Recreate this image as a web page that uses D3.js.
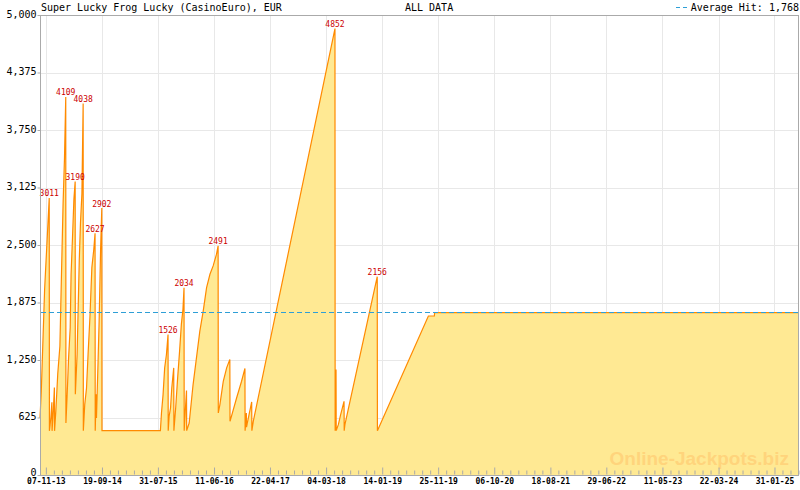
<!DOCTYPE html>
<html>
<head>
<meta charset="utf-8">
<script src="https://cdn.jsdelivr.net/npm/d3@7/dist/d3.min.js"></script>
<style>
  html, body { margin: 0; padding: 0; background: #fff; }
  svg { display: block; }
  text { font-family: "DejaVu Sans Mono", monospace; }
</style>
</head>
<body>
<svg id="chart" width="800" height="490"></svg>
<script>
// ---- data ----
const title = "Super Lucky Frog Lucky (CasinoEuro), EUR";
const subtitle = "ALL DATA";
const averageHit = 1768;

const dates = [
  "2013-10-05","2013-10-12","2013-10-31","2013-11-26","2013-11-27","2013-12-05","2013-12-11","2013-12-12",
  "2013-12-19","2013-12-25","2013-12-26","2014-01-02","2014-01-13","2014-01-25","2014-02-02","2014-02-12",
  "2014-02-20","2014-02-27","2014-02-28","2014-03-07","2014-03-15","2014-03-24","2014-03-29","2014-04-06",
  "2014-04-14","2014-04-21","2014-04-22","2014-05-02","2014-05-14","2014-05-21","2014-05-29","2014-06-05",
  "2014-06-06","2014-06-14","2014-06-24","2014-07-03","2014-07-13","2014-07-24","2014-08-04","2014-08-11",
  "2014-08-12","2014-08-17","2014-08-19","2014-08-28","2014-09-03","2014-09-11","2014-09-18","2014-09-19",
  "2015-08-14","2015-08-20","2015-08-29","2015-09-07","2015-09-17","2015-09-26","2015-09-27","2015-10-02",
  "2015-10-10","2015-10-17","2015-10-28","2015-10-29","2015-11-08","2015-11-19","2015-11-30","2015-12-10",
  "2015-12-19","2015-12-25","2015-12-26","2016-01-01","2016-01-08","2016-01-09","2016-01-23","2016-02-14",
  "2016-03-04","2016-03-23","2016-04-11","2016-04-30","2016-05-19","2016-06-06","2016-06-25","2016-07-04",
  "2016-07-05","2016-07-14","2016-08-02","2016-08-21","2016-09-08","2016-09-09","2016-10-16","2016-11-13",
  "2016-12-02","2016-12-03","2016-12-10","2016-12-11","2016-12-15","2017-01-09","2017-01-10","2017-01-18",
  "2018-04-23","2018-04-24","2018-04-26","2018-04-27","2018-04-29","2018-04-30","2018-05-12","2018-05-25",
  "2018-06-13","2018-06-14","2018-06-18","2018-12-17","2018-12-18","2019-10-01","2019-11-04","2019-11-05",
  "2025-06-18"
];
const values = [
  620, 900, 2020, 3011, 480, 620, 790, 480,
  700, 950, 480, 690, 1100, 1400, 2100, 2950,
  3450, 4109, 565, 877, 1273, 1600, 2182, 2581,
  3000, 3190, 877, 1313, 2327, 2745, 3057, 4038,
  482, 768, 946, 1327, 1709, 2254, 2454, 2627,
  482, 877, 619, 1237, 1673, 2436, 2902, 482,
  482, 674, 874, 1164, 1310, 1526, 482, 638,
  728, 946, 1164, 482, 728, 1055, 1346, 1637,
  1801, 2034, 482, 692, 918, 482, 565, 983,
  1273, 1564, 1782, 2036, 2182, 2273, 2400, 2491,
  674, 765, 1019, 1164, 1256, 583, 837, 1019,
  1158, 482, 674, 520, 560, 794, 482, 583,
  4852, 482, 900, 560, 1147, 482, 547, 656,
  801, 482, 547, 2156, 482, 1728, 1728, 1765,
  1765
];
const peakLabels = [3011, 4109, 3190, 4038, 2627, 2902, 1526, 2034, 2491, 4852, 2156];
const xTickLabels = ["07-11-13","19-09-14","31-07-15","11-06-16","22-04-17","04-03-18","14-01-19",
                     "25-11-19","06-10-20","18-08-21","29-06-22","11-05-23","22-03-24","31-01-25"];
const yTicks = [0, 625, 1250, 1875, 2500, 3125, 3750, 4375, 5000];

// ---- layout ----
const svg = d3.select("#chart");
const plot = { left: 40, right: 799, top: 15, bottom: 475 };
const parseISO = d3.timeParse("%Y-%m-%d");
const parseTick = d3.timeParse("%d-%m-%y");
const data = dates.map((d, i) => ({ date: parseISO(d), value: values[i] }));
const majorTicks = xTickLabels.map(parseTick);

const x = d3.scaleTime().domain(d3.extent(data, d => d.date)).range([plot.left, plot.right]);
const y = d3.scaleLinear().domain([0, 5000]).range([plot.bottom, plot.top]);

// minor ticks: 7 subdivisions between major ticks
const minorTicks = [];
const [d0, d1] = x.domain();
for (let i = 0; i < majorTicks.length - 1; i++) {
  const a = +majorTicks[i], b = +majorTicks[i + 1];
  for (let k = 1; k < 7; k++) minorTicks.push(new Date(a + (b - a) * k / 7));
}
{
  const n = majorTicks.length;
  const step = (+majorTicks[n - 1] - +majorTicks[n - 2]) / 7;
  for (let t = +majorTicks[n - 1] + step; t <= +d1; t += step) minorTicks.push(new Date(t));
  for (let t = +majorTicks[0] - step; t >= +d0; t -= step) minorTicks.push(new Date(t));
}

// ---- grid ----
const grid = svg.append("g").attr("stroke", "#e8e8e8").attr("stroke-width", 1);
grid.selectAll("line.h").data(yTicks).join("line")
  .attr("x1", plot.left).attr("x2", plot.right)
  .attr("y1", d => Math.round(y(d)) + 0.5).attr("y2", d => Math.round(y(d)) + 0.5);
grid.selectAll("line.v").data(majorTicks).join("line")
  .attr("y1", plot.top).attr("y2", plot.bottom)
  .attr("x1", d => Math.round(x(d)) + 0.5).attr("x2", d => Math.round(x(d)) + 0.5);

// ---- area + line ----
const area = d3.area().x(d => x(d.date)).y0(y(0)).y1(d => y(d.value));
const line = d3.line().x(d => x(d.date)).y(d => y(d.value));
svg.append("path").datum(data).attr("d", area).attr("fill", "#ffe993");

// watermark
svg.append("text").attr("x", 789).attr("y", 465).attr("text-anchor", "end")
  .style("font-family", "'Liberation Sans', Arial, sans-serif")
  .style("font-weight", "bold").style("font-size", "19px")
  .attr("fill", "#ffd47c").text("Online-Jackpots.biz");

svg.append("path").datum(data).attr("d", line)
  .attr("fill", "none").attr("stroke", "#ff8a00").attr("stroke-width", 1.2);

// average line
svg.append("line")
  .attr("x1", plot.left + 1).attr("x2", plot.right)
  .attr("y1", Math.round(y(averageHit)) + 0.5).attr("y2", Math.round(y(averageHit)) + 0.5)
  .attr("stroke", "#2e9fd6").attr("stroke-width", 1).attr("stroke-dasharray", "5,3");

// peak labels
const labelData = peakLabels.map(v => data.find(d => d.value === v)).filter(Boolean);
svg.append("g").selectAll("text").data(labelData).join("text")
  .attr("x", d => x(d.date)).attr("y", d => y(d.value) - 1.5)
  .attr("text-anchor", "middle").attr("fill", "#cc0000")
  .style("font-size", "8px").text(d => d.value);

// ---- frame ----
svg.append("rect")
  .attr("x", plot.left + 0.5).attr("y", plot.top + 0.5)
  .attr("width", plot.right - plot.left - 1).attr("height", plot.bottom - plot.top)
  .attr("fill", "none").attr("stroke", "#aaaaaa");

// ---- axes ----
const yAxis = svg.append("g").attr("transform", `translate(${plot.left + 0.5},0)`)
  .call(d3.axisLeft(y).tickValues(yTicks).tickFormat(d3.format(",")).tickSizeInner(3).tickSizeOuter(0).tickPadding(1));
yAxis.select(".domain").remove();
yAxis.selectAll("line").attr("stroke", "#aaaaaa");
yAxis.selectAll("text").style("font-size", "10px").style("font-family", "'DejaVu Sans Mono', monospace")
  .attr("fill", "#000").attr("dy", d => d === 0 ? "0.05em" : "0.2em");

const xMinor = svg.append("g").attr("transform", `translate(0,${plot.bottom - 0.5})`)
  .call(d3.axisBottom(x).tickValues(minorTicks).tickFormat("").tickSizeInner(-4).tickSizeOuter(0));
xMinor.select(".domain").remove();
xMinor.selectAll("line").attr("stroke", "#aaaaaa");

const xAxis = svg.append("g").attr("transform", `translate(0,${plot.bottom - 0.5})`)
  .call(d3.axisBottom(x).tickValues(majorTicks).tickFormat(d3.timeFormat("%d-%m-%y"))
    .tickSizeInner(-7).tickSizeOuter(0).tickPadding(4));
xAxis.select(".domain").remove();
xAxis.selectAll("line").attr("stroke", "#aaaaaa");
xAxis.selectAll("text").style("font-size", "8px").style("font-weight", "bold")
  .style("font-family", "'DejaVu Sans Mono', monospace").attr("fill", "#000");

// ---- header texts ----
svg.append("text").attr("x", 41).attr("y", 11).style("font-size", "10px").attr("fill", "#000").text(title);
svg.append("text").attr("x", 405).attr("y", 11).style("font-size", "10px").attr("fill", "#000").text(subtitle);
svg.append("text").attr("x", 799).attr("y", 11).attr("text-anchor", "end")
  .style("font-size", "10px").attr("fill", "#000")
  .text("Average Hit: " + d3.format(",")(averageHit));
svg.append("line").attr("x1", 676).attr("x2", 689).attr("y1", 7.5).attr("y2", 7.5)
  .attr("stroke", "#2e9fd6").attr("stroke-width", 1).attr("stroke-dasharray", "4,3");
</script>
</body>
</html>
